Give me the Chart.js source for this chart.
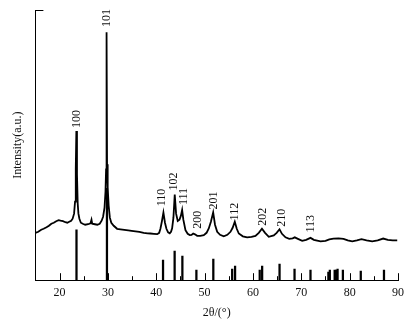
<!DOCTYPE html>
<html>
<head>
<meta charset="utf-8">
<title>XRD pattern</title>
<script src="https://cdn.jsdelivr.net/npm/chart.js@4/dist/chart.umd.min.js"></script>
<style>
    html, body { margin: 0; padding: 0; background: #fff; }
    #wrap { width: 416px; height: 327px; }
</style>
</head>
<body>
<div id="wrap"><canvas id="xrd" width="416" height="327"></canvas></div>
<script>
// measured pattern (2theta in degrees, intensity in arbitrary units)
var twoTheta = [
    15.0, 15.6, 16.2, 16.7, 17.3, 17.8, 18.3, 18.8, 19.3, 19.8, 20.2, 20.7, 21.2, 21.6, 22.0, 22.4, 22.7,
    23.0, 23.2, 23.35, 23.47, 23.6, 23.75, 23.9, 24.1, 24.4, 24.8, 25.3, 25.9, 26.4, 26.6, 26.75, 27.3,
    27.8, 28.3, 28.7, 29.0, 29.3, 29.5, 29.62, 29.72, 29.82, 29.95, 30.15, 30.4, 30.7, 31.2, 31.9, 32.6,
    33.4, 34.2, 34.9, 35.7, 36.5, 37.4, 38.2, 38.8, 39.5, 40.2, 40.6, 40.86, 41.15, 41.48, 41.8, 42.1,
    42.45, 42.79, 43.05, 43.28, 43.55, 43.82, 44.1, 44.44, 44.8, 45.1, 45.35, 45.6, 46.04, 46.5, 46.93,
    47.3, 47.63, 48.0, 48.46, 49.1, 49.82, 50.4, 50.86, 51.3, 51.77, 52.15, 52.6, 53.2, 53.96, 54.7,
    55.35, 55.8, 56.24, 56.65, 57.07, 57.9, 58.8, 59.7, 60.52, 61.2, 61.86, 62.5, 63.27, 64.3, 64.9,
    65.49, 66.0, 66.73, 67.5, 68.2, 68.65, 69.3, 70.18, 71.0, 71.9, 72.6, 73.97, 75.0, 75.8, 76.66,
    77.7, 78.73, 79.6, 80.53, 81.5, 82.45, 83.5, 84.67, 85.8, 86.94, 87.9, 88.9, 89.84
];
var intensity = [
    47, 48, 50, 51, 52.5, 54, 56, 57, 58.5, 59.5, 59, 58.5, 57.5, 57, 58, 59, 61,
    66, 78, 110, 148, 105, 76, 66, 61, 57, 56, 55, 55.5, 56.5, 60, 56, 55.5,
    55, 56, 59, 63, 72, 88, 110, 246, 115, 92, 74, 62, 57, 54, 51, 50.5,
    50, 49.5, 49, 48.5, 48, 47, 46.5, 46.3, 46, 45.7, 47, 51, 58, 67, 57, 51,
    47.5, 46.5, 48, 51.5, 62, 85, 66, 58.7, 60, 64, 69.7, 60, 49.7, 46, 44.7,
    45, 46.3, 45.5, 44, 44, 44.7, 47, 51.3, 58, 67.3, 55, 48, 45, 43.5, 45,
    48, 52, 58, 51, 46.3, 43.5, 42.5, 43, 44, 47, 51, 47, 43, 44.5, 47,
    50.5, 46, 42.5, 41, 41.5, 42.5, 41, 39, 40, 42, 40, 38.5, 39, 40.5, 41.3,
    41.5, 41, 39.5, 38.5, 39.5, 40.7, 39.5, 38.5, 39.5, 41.3, 40, 39.5, 39.5
];

// reference card lines
var stickTheta = [23.5, 29.8, 41.4, 43.8, 45.4, 48.3, 51.8, 55.7, 56.3, 61.4, 61.9, 65.5, 68.6,
    71.9, 75.6, 75.9, 76.9, 77.2, 77.5, 78.6, 82.3, 87.1];
var stickHeight = [50, 91, 20, 29, 24, 10, 21, 11, 14, 10, 14, 16, 11,
    10, 8, 10, 10, 10, 11, 10, 9, 10];

// hkl annotations
var peakLabels = ['100', '101', '110', '102', '111', '200', '201', '112', '202', '210', '113'];
var labelTheta = [23.6, 29.8, 41.1, 43.6, 45.7, 48.5, 52.0, 56.3, 62.1, 65.9, 71.9];
var labelHeight = [160, 260, 82, 98, 83, 60, 79, 68, 63, 62, 56];

var xTickValues = [20, 30, 40, 50, 60, 70, 80, 90];
var xMinorValues = [25, 35, 45, 55, 65, 75, 85];

var SERIF = '"Liberation Serif", "Times New Roman", serif';

var decorations = {
    id: 'decorations',
    afterDatasetsDraw: function (chart) {
        var ctx = chart.ctx;
        var xs = chart.scales.x;
        var ys = chart.scales.y;
        var area = chart.chartArea;
        var i, px;

        ctx.save();
        ctx.strokeStyle = '#000';
        ctx.lineWidth = 1;
        ctx.beginPath();
        for (i = 0; i < xTickValues.length; i++) {
            px = Math.round(xs.getPixelForValue(xTickValues[i])) + 0.5;
            ctx.moveTo(px, area.bottom);
            ctx.lineTo(px, area.bottom - 7);
        }
        for (i = 0; i < xMinorValues.length; i++) {
            px = Math.round(xs.getPixelForValue(xMinorValues[i])) + 0.5;
            ctx.moveTo(px, area.bottom);
            ctx.lineTo(px, area.bottom - 4);
        }
        // the only y tick, at the top
        ctx.moveTo(area.left, Math.round(area.top) + 0.5);
        ctx.lineTo(area.left + 8, Math.round(area.top) + 0.5);
        ctx.stroke();

        ctx.fillStyle = '#111';
        ctx.font = '12px ' + SERIF;
        ctx.textAlign = 'center';
        ctx.textBaseline = 'middle';
        for (i = 0; i < peakLabels.length; i++) {
            ctx.save();
            ctx.translate(xs.getPixelForValue(labelTheta[i]), ys.getPixelForValue(labelHeight[i]));
            ctx.rotate(-Math.PI / 2);
            ctx.fillText(peakLabels[i], 0, 0);
            ctx.restore();
        }
        ctx.restore();
    }
};

var curve = [];
for (var i = 0; i < twoTheta.length; i++) {
    curve.push({ x: twoTheta[i], y: intensity[i] });
}
var sticks = [];
for (var j = 0; j < stickTheta.length; j++) {
    sticks.push({ x: stickTheta[j], y: stickHeight[j] });
}

Chart.defaults.font.family = SERIF;
Chart.defaults.color = '#111';

new Chart(document.getElementById('xrd'), {
    type: 'line',
    data: {
        datasets: [{
            type: 'line',
            label: 'pattern',
            data: curve,
            borderColor: '#000',
            borderWidth: 1.8,
            pointRadius: 0,
            tension: 0,
            fill: false
        }, {
            type: 'bar',
            label: 'card',
            data: sticks,
            backgroundColor: '#000',
            borderWidth: 0,
            barThickness: 1.6
        }]
    },
    options: {
        responsive: false,
        animation: false,
        layout: { padding: { left: 11, right: 18, top: 10, bottom: 0 } },
        plugins: {
            legend: { display: false },
            tooltip: { enabled: false }
        },
        scales: {
            x: {
                type: 'linear',
                min: 15,
                max: 90,
                offset: false,
                afterBuildTicks: function (scale) {
                    scale.ticks = xTickValues.map(function (v) { return { value: v }; });
                },
                ticks: {
                    color: '#111',
                    font: { size: 12 },
                    padding: 5,
                    maxRotation: 0,
                    autoSkip: false
                },
                grid: { display: false, drawTicks: false },
                border: { display: true, color: '#000', width: 1 },
                title: {
                    display: true,
                    text: '2θ/(°)',
                    color: '#111',
                    font: { size: 12 },
                    padding: { top: 1, bottom: 7 }
                }
            },
            y: {
                min: 0,
                max: 268,
                ticks: { display: false },
                grid: { display: false, drawTicks: false },
                border: { display: true, color: '#000', width: 1 },
                title: {
                    display: true,
                    text: 'Intensity(a.u.)',
                    color: '#111',
                    font: { size: 12 },
                    padding: { top: 0, bottom: 10 }
                }
            }
        }
    },
    plugins: [decorations]
});
</script>
</body>
</html>
